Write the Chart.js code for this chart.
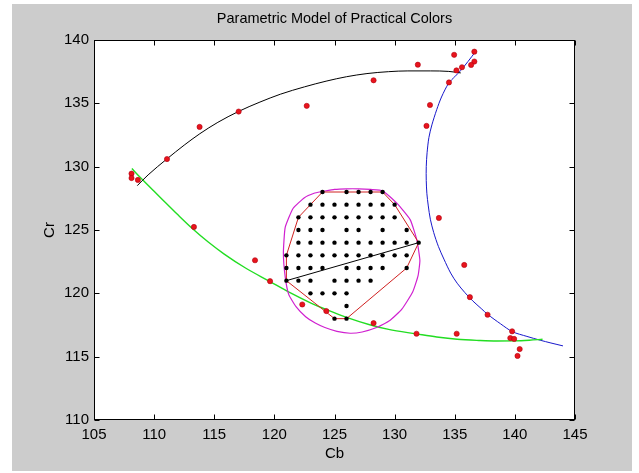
<!DOCTYPE html>
<html>
<head>
<meta charset="utf-8">
<script src="https://cdn.jsdelivr.net/npm/chart.js@4.4.0/dist/chart.umd.min.js"></script>
<style>
  html, body { margin: 0; padding: 0; background: #fff; }
  #frame { position: absolute; left: 12px; top: 4px; width: 620px; height: 467px; background: #cccccc; }
  #chart { position: absolute; left: 0; top: 0; }
</style>
</head>
<body>
<div id="frame"></div>
<canvas id="chart" width="639" height="473"></canvas>
<script>
// Cb / Cr samples
const samplePoints = [
  [108.12, 129.45], [108.12, 129.1], [108.65, 128.95], [111.07, 130.6], [113.78, 133.14],
  [117.03, 134.35], [122.69, 134.8], [128.25, 136.82], [131.93, 138.05], [134.95, 138.83],
  [136.63, 139.08], [136.63, 138.3], [136.36, 138.03], [135.6, 137.85], [135.14, 137.6],
  [134.52, 136.65], [132.94, 134.87], [132.65, 133.22], [133.68, 125.95], [135.79, 122.24],
  [136.26, 119.7], [137.73, 118.31], [139.77, 117.0], [139.62, 116.47], [139.94, 116.4],
  [140.4, 115.6], [140.22, 115.06], [135.16, 116.81], [131.82, 116.81], [128.25, 117.65],
  [124.32, 118.6], [122.32, 119.12], [119.64, 120.96], [118.39, 122.61], [113.31, 125.24]
];

// practical colour grid: one Cr row each, with its Cb values
const gridCr = [128, 127, 126, 125, 124, 123, 122, 121, 120, 119, 118];
const gridCb = [
  [124, 126, 127, 128, 129],
  [123, 124, 125, 126, 127, 128, 129, 130],
  [122, 123, 124, 125, 126, 127, 128, 129, 130],
  [122, 123, 124, 126, 127, 129, 131],
  [122, 123, 124, 125, 126, 127, 128, 129, 130, 131, 132],
  [121, 122, 123, 124, 125, 126, 127, 128, 129, 130, 131],
  [121, 122, 123, 124, 126, 127, 128, 129, 131],
  [121, 122, 123, 125, 126, 127, 128],
  [123, 124, 125, 126],
  [126],
  [125, 126]
];

const upperCurve = [
  [108.6, 128.5], [109.5, 129.35], [111.05, 130.6], [112.5, 131.7], [113.8, 132.6],
  [115.3, 133.5], [117.0, 134.35], [118.8, 135.1], [120.5, 135.72], [122.5, 136.3],
  [124.3, 136.75], [126.0, 137.1], [127.7, 137.35], [129.5, 137.5], [131.1, 137.56],
  [133.0, 137.56], [134.5, 137.52], [135.5, 137.4]
];

const lowerCurve = [
  [108.15, 129.85], [109.0, 129.0], [110.0, 128.05], [111.0, 127.12], [112.0, 126.18],
  [113.2, 125.1], [114.5, 124.05], [115.8, 123.12], [117.6, 122.0], [119.6, 120.95],
  [121.3, 120.05], [123.0, 119.25], [124.5, 118.65], [126.0, 118.1], [128.0, 117.5],
  [129.5, 117.15], [131.8, 116.8], [133.5, 116.55], [135.2, 116.37], [137.0, 116.28],
  [138.5, 116.24], [140.0, 116.25], [141.2, 116.3], [142.3, 116.37]
];

const rightCurve = [
  [136.7, 139.05], [136.1, 138.3], [135.5, 137.6], [135.0, 137.1], [134.5, 136.6],
  [133.9, 135.5], [133.5, 134.5], [133.1, 133.3], [132.85, 132.3], [132.7, 131.1],
  [132.63, 130.0], [132.63, 128.9], [132.68, 127.9], [132.8, 126.9], [132.97, 125.85],
  [133.25, 124.8], [133.64, 123.7], [134.1, 122.7], [134.66, 121.6], [135.2, 120.8],
  [135.85, 120.05], [136.5, 119.4], [137.2, 118.8], [137.75, 118.33], [138.8, 117.6],
  [139.8, 116.97], [141.0, 116.6], [142.1, 116.3], [143.0, 116.08], [144.0, 115.85]
];

const ellipse = [
  [124.0, 128.05], [125.0, 128.2], [126.0, 128.25], [127.0, 128.25], [128.0, 128.2],
  [129.0, 128.1], [130.2, 127.1], [131.3, 125.8], [131.85, 124.2], [132.1, 122.6],
  [131.95, 121.4], [131.5, 120.1], [130.6, 118.75], [129.6, 117.85], [128.5, 117.3],
  [127.3, 116.95], [126.3, 116.85], [125.2, 117.0], [124.2, 117.3], [123.4, 117.65],
  [122.6, 118.15], [121.8, 118.95], [121.2, 119.9], [120.9, 121.3], [120.75, 123.2],
  [120.9, 125.2], [121.55, 126.7], [122.5, 127.55], [123.3, 127.9], [124.0, 128.05]
];

const hull = [
  [124, 128], [129, 128], [130, 127], [132, 124], [131, 122], [126, 118], [125, 118],
  [121, 121], [121, 123], [122, 126], [123, 127], [124, 128]
];

const diameter = [[121, 121], [132, 124]];

const xTicks = [105, 110, 115, 120, 125, 130, 135, 140, 145];
const yTicks = [110, 115, 120, 125, 130, 135, 140];
const titleText = 'Parametric Model of Practical Colors';

const FONT = 'Liberation Sans, Arial, Helvetica, sans-serif';
const pts = arr => arr.map(p => ({ x: p[0], y: p[1] }));
const gridPoints = [];
gridCr.forEach((cr, i) => gridCb[i].forEach(cb => gridPoints.push({ x: cb, y: cr })));

function curve(data, color, width, extra) {
  return Object.assign({
    data: pts(data), showLine: true, fill: false, borderColor: color, borderWidth: width,
    pointRadius: 0, tension: 0
  }, extra || {});
}

// white axes box with inward ticks on all four sides, plus the centred title
const matlabAxes = {
  id: 'matlabAxes',
  beforeDatasetsDraw(chart) {
    const { ctx, chartArea: a } = chart;
    ctx.save();
    ctx.fillStyle = '#fff';
    ctx.fillRect(a.left, a.top, a.right - a.left, a.bottom - a.top);
    ctx.restore();
  },
  afterDraw(chart) {
    const { ctx, chartArea: a, scales: { x, y } } = chart;
    const len = 5;
    ctx.save();
    ctx.strokeStyle = '#000';
    ctx.lineWidth = 1;
    const l = Math.round(a.left) + 0.5, r = Math.round(a.right) - 0.5;
    const t = Math.round(a.top) + 0.5, b = Math.round(a.bottom) - 0.5;
    ctx.strokeRect(l, t, r - l, b - t);
    ctx.beginPath();
    xTicks.forEach(v => {
      const px = Math.round(x.getPixelForValue(v)) + 0.5;
      ctx.moveTo(px, b); ctx.lineTo(px, b - len);
      ctx.moveTo(px, t); ctx.lineTo(px, t + len);
    });
    yTicks.forEach(v => {
      const py = Math.round(y.getPixelForValue(v)) + 0.5;
      ctx.moveTo(l, py); ctx.lineTo(l + len, py);
      ctx.moveTo(r, py); ctx.lineTo(r - len, py);
    });
    ctx.stroke();

    ctx.fillStyle = '#000';
    ctx.font = '14.5px ' + FONT;
    ctx.textAlign = 'center';
    ctx.textBaseline = 'middle';
    ctx.fillText(titleText, (a.left + a.right) / 2, 19);
    ctx.restore();
  }
};

new Chart(document.getElementById('chart'), {
  type: 'scatter',
  data: {
    datasets: [
      { data: pts(samplePoints), pointRadius: 2.6, backgroundColor: '#e8141c', borderColor: '#b00010', borderWidth: 0.6 },
      { data: gridPoints, pointRadius: 2.2, backgroundColor: '#000', borderWidth: 0 },
      curve(diameter, '#000', 1),
      curve(hull, '#d02020', 1),
      curve(ellipse, '#d020d0', 1.2, { tension: 0.15 }),
      curve(upperCurve, '#000', 1, { cubicInterpolationMode: 'monotone' }),
      curve(lowerCurve, '#22dd22', 1.4, { cubicInterpolationMode: 'monotone' }),
      curve(rightCurve, '#1818cc', 1, { tension: 0.3 })
    ]
  },
  options: {
    responsive: false,
    animation: false,
    layout: { padding: { left: 0, right: 64, top: 40, bottom: 0 } },
    plugins: {
      legend: { display: false },
      tooltip: { enabled: false },
      title: { display: false }
    },
    scales: {
      x: {
        type: 'linear', min: 105, max: 145,
        afterFit: s => { s.height = 53; },
        afterBuildTicks: s => { s.ticks = xTicks.map(v => ({ value: v })); },
        grid: { display: false, drawTicks: false },
        border: { display: false },
        ticks: { color: '#000', padding: 6, font: { family: FONT, size: 15 }, maxRotation: 0 },
        title: { display: true, text: 'Cb', color: '#000', font: { family: FONT, size: 15 }, padding: { top: 0, bottom: 10 } }
      },
      y: {
        type: 'linear', min: 110, max: 140,
        afterFit: s => { s.width = 94; },
        afterBuildTicks: s => { s.ticks = yTicks.map(v => ({ value: v })); },
        grid: { display: false, drawTicks: false },
        border: { display: false },
        ticks: { color: '#000', padding: 5, font: { family: FONT, size: 15 } },
        title: { display: true, text: 'Cr', color: '#000', font: { family: FONT, size: 15 }, padding: { top: 41, bottom: 0 } }
      }
    }
  },
  plugins: [matlabAxes]
});
</script>
</body>
</html>
